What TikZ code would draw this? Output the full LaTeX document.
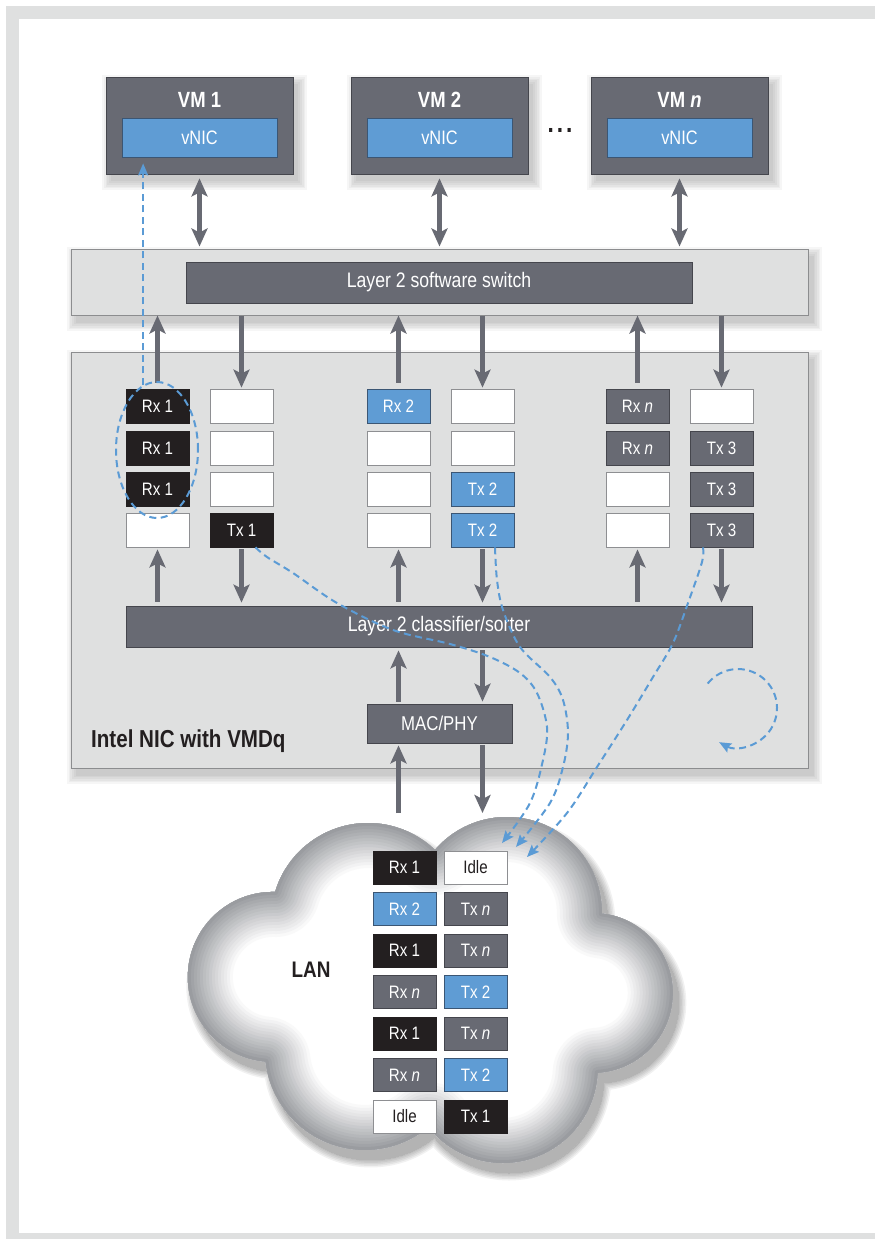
\documentclass[tikz,border=0pt]{standalone}
\usepackage{fontspec}
\setmainfont{Liberation Sans}[FakeStretch=0.84]
\usetikzlibrary{arrows.meta,shapes.geometric,calc}
\definecolor{vmgray}{HTML}{686A73}
\definecolor{vmborder}{HTML}{45464D}
\definecolor{qblackc}{HTML}{231F20}
\definecolor{bluec}{HTML}{5F9CD4}
\definecolor{blueborder}{HTML}{3B5674}
\definecolor{lgray}{HTML}{DFE0E0}
\definecolor{lborder}{HTML}{8C8D8F}
\definecolor{wborder}{HTML}{8E8F92}
\definecolor{dashblue}{HTML}{5B9BD5}
\definecolor{cloudedge}{HTML}{9A9CA0}
\definecolor{framec}{HTML}{DFE0E0}
\pgfdeclarelayer{back}
\pgfdeclarelayer{bg}
\pgfsetlayers{back,bg,main}
\tikzset{
 vmbox/.style={fill=vmgray, draw=vmborder, line width=0.8pt, minimum height=97pt, inner sep=0pt},
 vmlabel/.style={text=white, font=\fontsize{22}{24}\selectfont\bfseries, inner sep=0pt},
 vnicbox/.style={fill=bluec, draw=blueborder, line width=0.8pt, minimum height=39pt, inner sep=0pt, text=white, font=\fontsize{19.5}{22}\selectfont},
 panel/.style={fill=lgray, draw=lborder, line width=1pt, inner sep=0pt},
 darkbar/.style={fill=vmgray, draw=vmborder, line width=0.8pt, inner sep=0pt, text=white, font=\fontsize{21}{23}\selectfont},
 qbox/.style={minimum width=63pt, minimum height=34pt, inner sep=0pt, line width=0.8pt, font=\fontsize{18}{20}\selectfont},
 lbox/.style={qbox, minimum height=33pt},
 qwhite/.style={fill=white, draw=wborder, text=qblackc},
 qblack/.style={fill=qblackc, draw=qblackc, text=white},
 qblue/.style={fill=bluec, draw=blueborder, text=white},
 qgray/.style={fill=vmgray, draw=vmborder, text=white},
 garrow/.style={draw=vmgray, line width=5pt, -{Stealth[length=18pt,width=16pt,inset=4pt]}},
 gdbl/.style={draw=vmgray, line width=5pt, {Stealth[length=18pt,width=16pt,inset=4pt]}-{Stealth[length=18pt,width=16pt,inset=4pt]}},
 bdash/.style={draw=dashblue, line width=2pt, dash pattern=on 7pt off 4.5pt, -{Stealth[length=12pt,width=10pt,inset=2pt]}},
}
\newcommand\cloudoutline{%
 (275.1,892.0) arc[start angle=163.2, end angle=46.3, radius=97pt]
 arc[start angle=139.2, end angle=-0.9, radius=95pt]
 arc[start angle=83.5, end angle=-86.5, radius=80pt]
 arc[start angle=-2.9, end angle=-141.5, radius=95pt]
 arc[start angle=-50.5, end angle=-173.3, radius=100pt]
 arc[start angle=265.1, end angle=88.6, radius=85pt] -- cycle}
\begin{document}
\begin{tikzpicture}[x=1pt,y=-1pt]
\useasboundingbox (0,0) rectangle (875,1239);
\begin{pgfonlayer}{back}
 \fill[framec] (6,6) rectangle (875,1239);
 \fill[white] (19,19) rectangle (875,1233);
\end{pgfonlayer}
% VMs
\node[vmbox, minimum width=187pt] (vm1) at (199.5,125.5) {};
\node[vmlabel] (vm1t) at (199.5,100) {VM 1};
\node[vnicbox, minimum width=155pt] (nic1) at (199.5,137.5) {vNIC};
\node[vmbox, minimum width=177pt] (vm2) at (439.5,125.5) {};
\node[vmlabel] (vm2t) at (439.5,100) {VM 2};
\node[vnicbox, minimum width=145pt] (nic2) at (439.5,137.5) {vNIC};
\node[vmbox, minimum width=177pt] (vm3) at (679.5,125.5) {};
\node[vmlabel] (vm3t) at (679.5,100) {VM \textit{n}};
\node[vnicbox, minimum width=145pt] (nic3) at (679.5,137.5) {vNIC};
\node[font=\fontsize{27}{27}\selectfont\bfseries, text=qblackc, inner sep=0pt] (dots) at (560,130) {.\hspace{3pt}.\hspace{3pt}.};
% switch and NIC panels
\node[panel, minimum width=737pt, minimum height=66pt] (swbox) at (439.5,282) {};
\node[darkbar, minimum width=506pt, minimum height=41pt] (sw) at (439,282.5) {Layer 2 software switch};
\node[panel, minimum width=737pt, minimum height=416pt] (nicbox) at (439.5,560) {};
% shadows
\begin{pgfonlayer}{bg}
\foreach \n in {vm1,vm2,vm3,swbox,nicbox}{
 \foreach \s in {0,...,5}{
  \pgfmathsetmacro\ee{1.7*\s}
  \fill[black,opacity=0.035] ([xshift={5pt-\ee pt},yshift={-7pt+\ee pt}]\n.north west) rectangle ([xshift={5pt+\ee pt},yshift={-7pt-\ee pt}]\n.south east);
 }}
\end{pgfonlayer}
% queues
\node[qbox,qblack] (q11) at (157.5,406) {Rx 1};
\node[qbox,qblack] (q12) at (157.5,448) {Rx 1};
\node[qbox,qblack] (q13) at (157.5,489) {Rx 1};
\node[qbox,qwhite] (q14) at (157.5,530) {};
\node[qbox,qwhite] (q21) at (241.5,406) {};
\node[qbox,qwhite] (q22) at (241.5,448) {};
\node[qbox,qwhite] (q23) at (241.5,489) {};
\node[qbox,qblack] (q24) at (241.5,530) {Tx 1};
\node[qbox,qblue] (q31) at (398.5,406) {Rx 2};
\node[qbox,qwhite] (q32) at (398.5,448) {};
\node[qbox,qwhite] (q33) at (398.5,489) {};
\node[qbox,qwhite] (q34) at (398.5,530) {};
\node[qbox,qwhite] (q41) at (482.5,406) {};
\node[qbox,qwhite] (q42) at (482.5,448) {};
\node[qbox,qblue] (q43) at (482.5,489) {Tx 2};
\node[qbox,qblue] (q44) at (482.5,530) {Tx 2};
\node[qbox,qgray] (q51) at (637.5,406) {Rx \textit{n}};
\node[qbox,qgray] (q52) at (637.5,448) {Rx \textit{n}};
\node[qbox,qwhite] (q53) at (637.5,489) {};
\node[qbox,qwhite] (q54) at (637.5,530) {};
\node[qbox,qwhite] (q61) at (721.5,406) {};
\node[qbox,qgray] (q62) at (721.5,448) {Tx 3};
\node[qbox,qgray] (q63) at (721.5,489) {Tx 3};
\node[qbox,qgray] (q64) at (721.5,530) {Tx 3};
% classifier, MAC
\node[darkbar, minimum width=626pt, minimum height=41pt] (cls) at (439,626.5) {Layer 2 classifier/sorter};
\node[darkbar, minimum width=145pt, minimum height=39pt, font=\fontsize{20}{22}\selectfont] (mac) at (439.5,723.5) {MAC/PHY};
\node[anchor=west, font=\fontsize{24.5}{26}\selectfont\bfseries, text=qblackc, inner sep=0pt] (niclabel) at (91,741) {Intel NIC with VMDq};
% arrows VM <-> switch
\foreach \v in {vm1,vm2,vm3}{
 \draw[gdbl, shorten <=4pt, shorten >=2pt] (\v.south) -- (\v.south |- swbox.north);
}
% switch <-> queues
\foreach \q in {q11,q31,q51}{
 \draw[garrow, shorten <=6pt] (\q.north) -- (\q.north |- swbox.south);
}
\foreach \q in {q21,q41,q61}{
 \draw[garrow, shorten >=1pt] (\q.north |- swbox.south) -- (\q.north);
}
% queues <-> classifier
\foreach \q in {q14,q34,q54}{
 \draw[garrow, shorten <=4pt, shorten >=2pt] (\q.south |- cls.north) -- (\q.south);
}
\foreach \q in {q24,q44,q64}{
 \draw[garrow, shorten <=2pt, shorten >=3pt] (\q.south) -- (\q.south |- cls.north);
}
% classifier <-> MAC
\draw[garrow, shorten <=2pt, shorten >=3pt] (q34.south |- mac.north) -- (q34.south |- cls.south);
\draw[garrow, shorten <=3pt, shorten >=2pt] (q44.south |- cls.south) -- (q44.south |- mac.north);
% MAC <-> LAN
\coordinate (lanup) at (398.5,813);
\coordinate (landown) at (482.5,813);
\draw[garrow, shorten >=2pt] (lanup) -- (lanup |- mac.south);
\draw[garrow, shorten <=2pt] (landown |- mac.south) -- (landown);
% cloud shadow
\foreach \s in {0,...,5}{
 \begin{scope}[transparency group, opacity=0.055, xshift=6pt, yshift=-10pt]
  \filldraw[black, line width=3*\s pt, line join=round] \cloudoutline;
 \end{scope}
}
% cloud with graded rim
\fill[white] \cloudoutline;
\begin{scope}
 \clip \cloudoutline;
 \foreach \k in {15,...,1}{
  \pgfmathsetmacro\ww{6*\k}
  \pgfmathtruncatemacro\pp{100-100*(\k-1)/15}
  \draw[cloudedge!\pp!white, line width=\ww pt, line join=round] \cloudoutline;
 }
\end{scope}
% LAN table
\node[lbox,qblack] (c1a) at (404.5,867.5) {Rx 1};
\node[lbox,qwhite] (c1b) at (475.5,867.5) {Idle};
\node[lbox,qblue] (c2a) at (404.5,909) {Rx 2};
\node[lbox,qgray] (c2b) at (475.5,909) {Tx \textit{n}};
\node[lbox,qblack] (c3a) at (404.5,950.5) {Rx 1};
\node[lbox,qgray] (c3b) at (475.5,950.5) {Tx \textit{n}};
\node[lbox,qgray] (c4a) at (404.5,992) {Rx \textit{n}};
\node[lbox,qblue] (c4b) at (475.5,992) {Tx 2};
\node[lbox,qblack] (c5a) at (404.5,1033.5) {Rx 1};
\node[lbox,qgray] (c5b) at (475.5,1033.5) {Tx \textit{n}};
\node[lbox,qgray] (c6a) at (404.5,1075) {Rx \textit{n}};
\node[lbox,qblue] (c6b) at (475.5,1075) {Tx 2};
\node[lbox,qwhite] (c7a) at (404.5,1116.5) {Idle};
\node[lbox,qblack] (c7b) at (475.5,1116.5) {Tx 1};
\node[font=\fontsize{22.5}{26}\selectfont\bfseries, text=qblackc] (lan) at (311,970) {LAN};
% dashed blue paths
\node[draw=dashblue, line width=2pt, dash pattern=on 7pt off 4.5pt, ellipse, minimum width=82pt, minimum height=136pt, inner sep=0pt] (ell) at (157,450) {};
\draw[bdash, shorten >=6pt] (ell.102) -- (ell.102 |- nic1.south);
\coordinate (s1) at ([xshift=14pt]q24.south);
\coordinate (t1) at (502,843);
\draw[bdash] plot[smooth, tension=0.55] coordinates {(s1) (267,557) (293,573) (337,603) (393,630) (450,644) (490,657) (520,673) (537,693) (547,727) (543,760) (530,803) (t1)};
\coordinate (s2) at ([xshift=12.5pt]q44.south);
\coordinate (t2) at (516,847);
\draw[bdash] plot[smooth, tension=0.55] coordinates {(s2) (497,580) (503,610) (520,647) (550,677) (563,700) (568,733) (563,767) (550,803) (t2)};
\coordinate (s3) at ([xshift=-18.5pt]q64.south);
\coordinate (t3) at (527,857);
\draw[bdash] plot[smooth, tension=0.55] coordinates {(s3) (702,562) (688,603) (673,643) (653,677) (627,720) (597,767) (567,813) (t3)};
\coordinate (ls) at (707.7,683.5);
\draw[bdash] (ls) arc[start angle=141, end angle=-119, radius=39pt];
\end{tikzpicture}
\end{document}
